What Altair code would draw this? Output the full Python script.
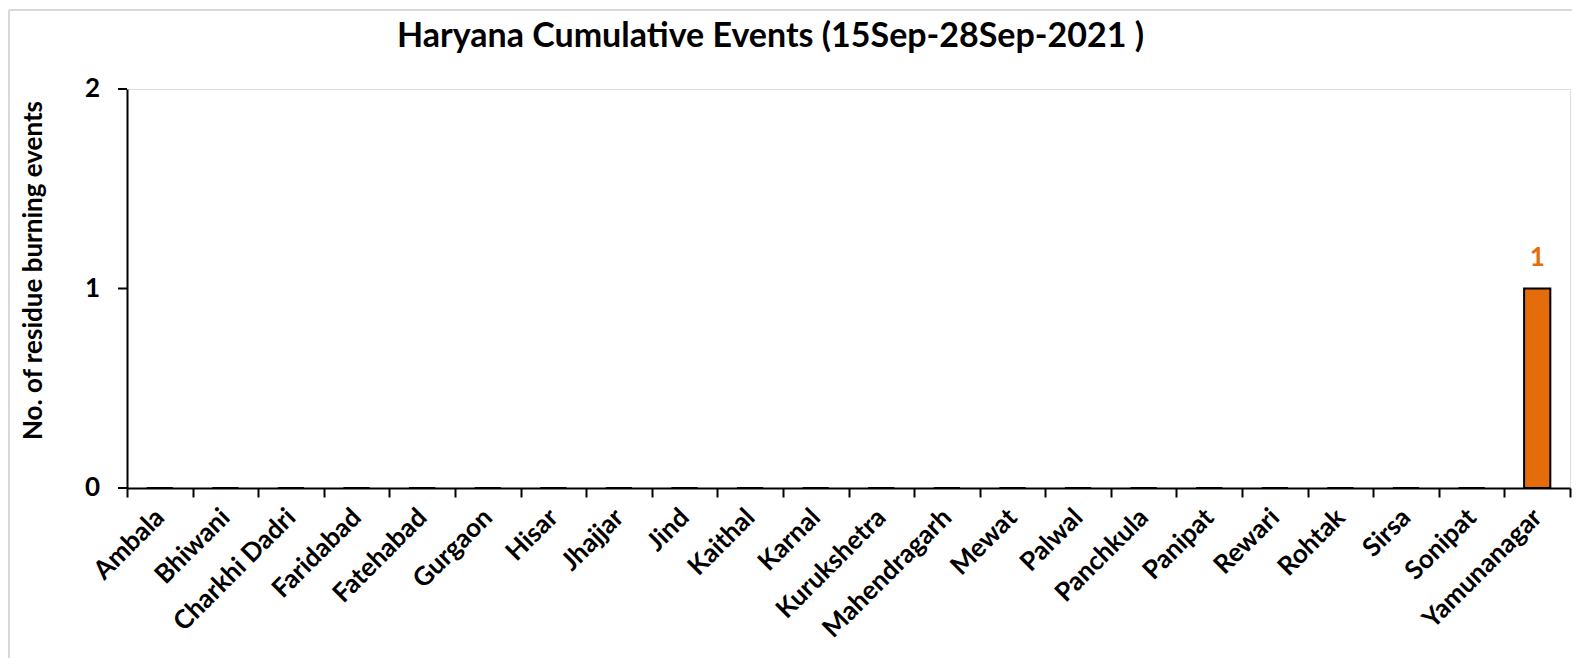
import altair as alt
import pandas as pd

districts = ["Ambala", "Bhiwani", "Charkhi Dadri", "Faridabad", "Fatehabad", "Gurgaon",
             "Hisar", "Jhajjar", "Jind", "Kaithal", "Karnal", "Kurukshetra", "Mahendragarh",
             "Mewat", "Palwal", "Panchkula", "Panipat", "Rewari", "Rohtak", "Sirsa",
             "Sonipat", "Yamunanagar"]
events = [0, 0, 0, 0, 0, 0, 0, 0, 0, 0, 0, 0, 0, 0, 0, 0, 0, 0, 0, 0, 0, 1]
y_ticks = [0, 1, 2]

df = pd.DataFrame({"district": districts, "events": events})
ticks_df = pd.DataFrame({"events": y_ticks})

FONT = "Lato"
ORANGE = "#E46C0A"
FRAME = "#D9D9D9"

yscale = alt.Scale(domain=[0, 2], nice=False)

x = alt.X("district:N", sort=districts, title=None,
          scale=alt.Scale(paddingInner=0, paddingOuter=0),
          axis=alt.Axis(labelAngle=-45, labelAlign="right", labelBaseline="middle",
                        labelFont=FONT, labelFontSize=26, labelFontWeight="bold",
                        labelColor="black", labelPadding=16, tickBand="extent",
                        tickSize=9, tickWidth=2, tickColor="black",
                        domainColor="black", domainWidth=2, grid=False))
y = alt.Y("events:Q", title="No. of residue burning events", scale=yscale,
          axis=alt.Axis(labels=False, ticks=False, grid=False,
                        domainColor="black", domainWidth=2,
                        titleFont=FONT, titleFontSize=26, titleFontWeight="bold",
                        titleColor="black", titleAngle=-90, titleBaseline="middle",
                        titleAlign="center", titleX=-94, titleY=181))

base = alt.Chart(df)
bars = base.mark_bar(color=ORANGE, stroke="black", strokeWidth=2,
                     width={"band": 0.4}).encode(x=x, y=y)
labels = base.transform_filter("datum.events > 0").mark_text(
    color=ORANGE, font=FONT, fontSize=26, fontWeight="bold",
    baseline="bottom", dy=-18).encode(x=x, y=y, text=alt.Text("events:Q", format="d"))

# y-axis ticks and tick labels from the y_ticks list
ytick_marks = alt.Chart(ticks_df).mark_rule(color="black", strokeWidth=2).encode(
    y=y, x=alt.value(-9), x2=alt.value(0))
ytick_text = alt.Chart(ticks_df).mark_text(
    font=FONT, fontSize=26, fontWeight="bold", color="black",
    align="right", baseline="middle").encode(
    y=y, x=alt.value(-27), text=alt.Text("events:Q", format="d"))

# light grey chart-area frame
frame_df = pd.DataFrame({"k": [0]})
frame_h = alt.Chart(frame_df).mark_rule(color=FRAME, strokeWidth=2).encode(
    x=alt.value(-118), x2=alt.value(1460), y=alt.value(-79))
frame_v = alt.Chart(frame_df).mark_rule(color=FRAME, strokeWidth=2).encode(
    x=alt.value(-118), y=alt.value(-79), y2=alt.value(590))
frame_top = alt.Chart(frame_df).mark_rule(color=FRAME, strokeWidth=2).encode(
    x=alt.value(-117), x2=alt.value(1460), y=alt.value(-86))
frame_top_v = alt.Chart(frame_df).mark_rule(color=FRAME, strokeWidth=2).encode(
    x=alt.value(-117), y=alt.value(-89), y2=alt.value(-86))

chart = alt.layer(bars, labels, ytick_marks, ytick_text,
                  frame_h, frame_v, frame_top, frame_top_v).properties(
    width=1443, height=399,
    title=alt.TitleParams("Haryana Cumulative Events (15Sep-28Sep-2021 )",
                          font=FONT, fontSize=34, fontWeight="bold", color="black",
                          anchor="middle", frame="group", dx=-78, offset=-55),
    autosize=alt.AutoSizeParams(type="none"),
    padding={"left": 119, "top": 81, "right": 2, "bottom": 170},
).configure_view(strokeWidth=0, stroke="transparent").configure(background="white")

chart.save("out.html", embed_options={"renderer": "svg", "actions": False})
